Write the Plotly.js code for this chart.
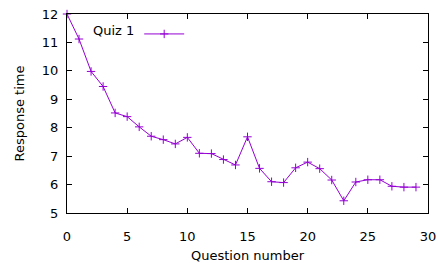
<!DOCTYPE html>
<html>
<head>
<meta charset="utf-8">
<script src="https://cdn.plot.ly/plotly-3.0.1.min.js"></script>
<style>html,body{margin:0;padding:0;background:#fff;}#chart{width:438px;height:263px;}</style>
</head>
<body>
<div id="chart"></div>
<script>
const questionNumbers = [0,1,2,3,4,5,6,7,8,9,10,11,12,13,14,15,16,17,18,19,20,21,22,23,24,25,26,27,28,29];
const responseTimes = [12.0,11.12,9.98,9.45,8.52,8.39,8.03,7.7,7.58,7.43,7.66,7.1,7.09,6.88,6.69,7.68,6.57,6.1,6.07,6.59,6.79,6.56,6.16,5.43,6.09,6.17,6.17,5.94,5.91,5.91];
const seriesName = "Quiz 1";
const xTicks = [0,5,10,15,20,25,30];
const yTicks = [5,6,7,8,9,10,11,12];

const font = {family: "DejaVu Sans, Verdana, sans-serif", size: 13, color: "#000"};

const trace = {
  x: questionNumbers, y: responseTimes, type: "scatter", mode: "lines+markers",
  name: " ",
  line: {color: "#9400d3", width: 1},
  marker: {symbol: "cross-thin-open", size: 6, color: "#9400d3", line: {color: "#9400d3", width: 1}},
  cliponaxis: false
};

const axisCommon = {
  showline: true, linecolor: "#000", linewidth: 1, mirror: "ticks",
  ticks: "inside", ticklen: 5, tickcolor: "#000", tickwidth: 1,
  showgrid: false, zeroline: false, tickfont: font
};

const layout = {
  width: 438, height: 263,
  margin: {l: 67, r: 10, t: 13.5, b: 49.5},
  paper_bgcolor: "#fff", plot_bgcolor: "#fff",
  font: font,
  showlegend: true,
  legend: {x: 0.2, y: 0.975, xanchor: "left", yanchor: "top", bgcolor: "rgba(0,0,0,0)", font: font, itemwidth: 40, tracegroupgap: 0},
  xaxis: Object.assign({}, axisCommon, {range: [0, 30], tickvals: xTicks, ticklabelstandoff: 11, title: {text: "Question number", font: font, standoff: 9}}),
  yaxis: Object.assign({}, axisCommon, {range: [5, 12], tickvals: yTicks, ticklabelstandoff: 5, title: {text: "Response time", font: font, standoff: 14}}),
  annotations: [{text: seriesName, xref: "paper", yref: "paper", x: 0.191, y: 0.9175, xanchor: "right", yanchor: "middle", showarrow: false, font: font}]
};

Plotly.newPlot("chart", [trace], layout, {displayModeBar: false, staticPlot: true});
</script>
</body>
</html>
